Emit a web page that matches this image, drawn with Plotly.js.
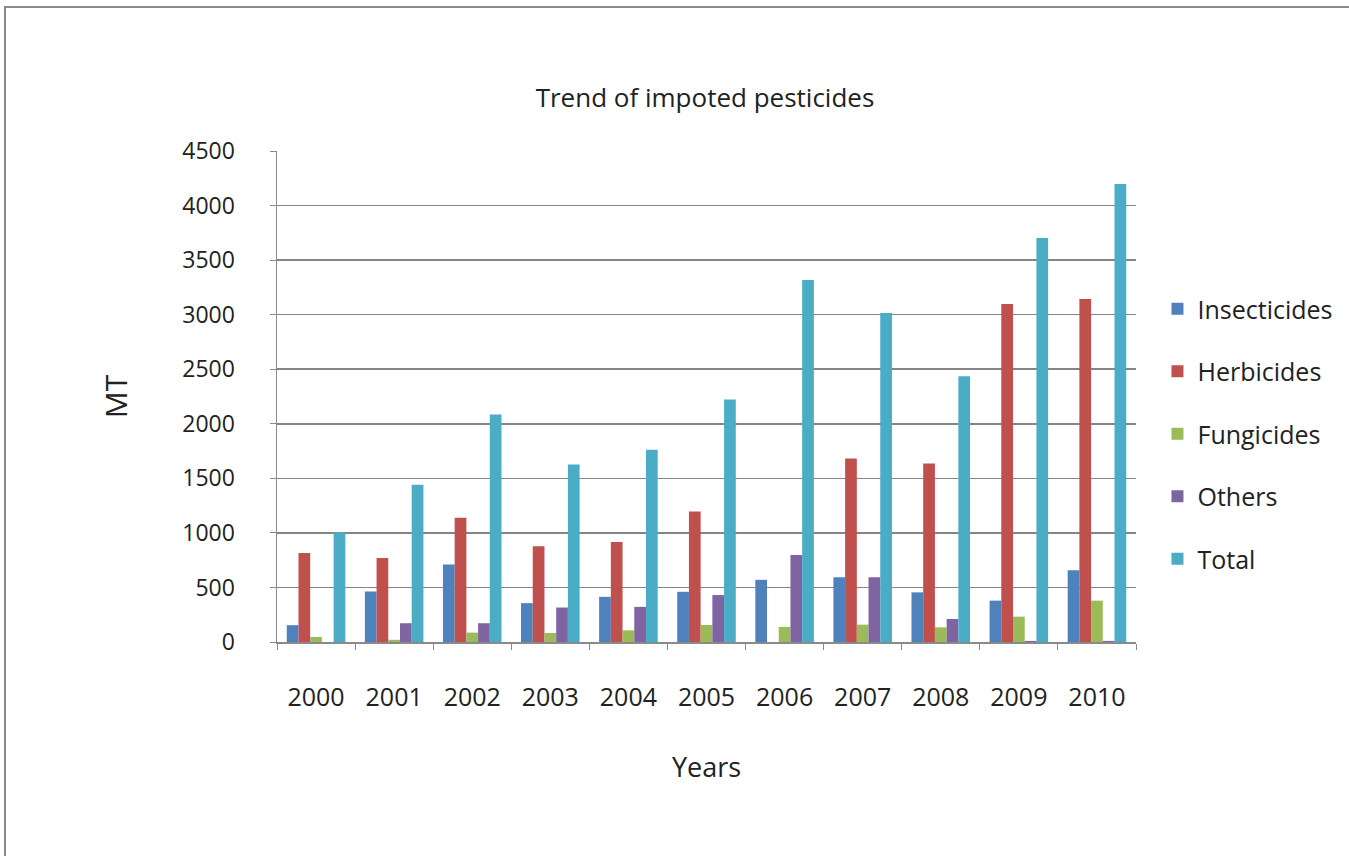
<!DOCTYPE html>
<html>
<head>
<meta charset="utf-8">
<script src="https://cdn.plot.ly/plotly-3.0.1.min.js"></script>
<style>
html,body{margin:0;padding:0;background:#fff;overflow:hidden;}
#frame{position:absolute;left:4px;top:6px;width:1400px;height:900px;border-left:2px solid #8a8a8a;border-top:2px solid #8a8a8a;}
#chart{position:absolute;left:0;top:0;width:1349px;height:856px;}
</style>
</head>
<body>
<div id="frame"></div>
<div id="chart"></div>
<script>
const years = ["2000","2001","2002","2003","2004","2005","2006","2007","2008","2009","2010"];
const insecticides = [154, 463, 711, 356, 414, 460, 570, 593, 455, 379, 657];
const herbicides   = [816, 770, 1138, 877, 917, 1196, 0, 1681, 1635, 3098, 3144];
const fungicides   = [46, 20, 86, 83, 107, 156, 138, 159, 135, 232, 379];
const others       = [0, 172, 172, 316, 322, 430, 797, 593, 211, 10, 10];
const total        = [1005, 1442, 2086, 1626, 1763, 2223, 3318, 3016, 2435, 3703, 4198];

const seriesNames = ["Insecticides","Herbicides","Fungicides","Others","Total"];
const seriesData = [insecticides, herbicides, fungicides, others, total];
const colors = ["#4F81BD","#C0504D","#9BBB59","#8064A2","#4BACC6"];

const font = "Open Sans, Liberation Sans, sans-serif";
const traces = seriesNames.map((n,i)=>({
  type:"bar", name:n, x:years, y:seriesData[i],
  marker:{color:colors[i]}, legendgroup:"g"+i
}));

const layout = {
  width:1349, height:856,
  margin:{l:277, r:207, t:151, b:214},
  paper_bgcolor:"rgba(0,0,0,0)", plot_bgcolor:"rgba(0,0,0,0)",
  font:{family:font, size:23, color:"#222"},
  title:{text:"Trend of impoted pesticides", font:{family:font, size:26, color:"#222"},
         x:705/1349, xref:"container", xanchor:"center", y:1-98/856, yref:"container", yanchor:"middle"},
  barmode:"group", bargap:0.25, bargroupgap:0,
  xaxis:{type:"category", tickson:"boundaries", ticks:"outside", ticklen:6, tickcolor:"#8a8a8a",
         showline:true, linecolor:"#8a8a8a", linewidth:1.5, showgrid:false,
         ticklabelstandoff:32, tickfont:{size:25},
         title:{text:"Years", font:{size:27}, standoff:46}},
  yaxis:{range:[0,4500], dtick:500, tick0:0, ticks:"outside", ticklen:6, tickcolor:"#8a8a8a",
         showline:true, linecolor:"#8a8a8a", linewidth:1.5, gridcolor:"#858585", gridwidth:1.6,
         zeroline:false, ticklabelstandoff:30, tickfont:{size:23},
         title:{text:"MT", font:{size:30}, standoff:46}},
  legend:{x:1.025, xanchor:"left", y:0.725, yanchor:"top", traceorder:"grouped", tracegroupgap:27,
          font:{size:25}, itemwidth:30, bgcolor:"rgba(0,0,0,0)"},
  showlegend:true
};
Plotly.newPlot("chart", traces, layout, {displayModeBar:false, staticPlot:true});
</script>
</body>
</html>
